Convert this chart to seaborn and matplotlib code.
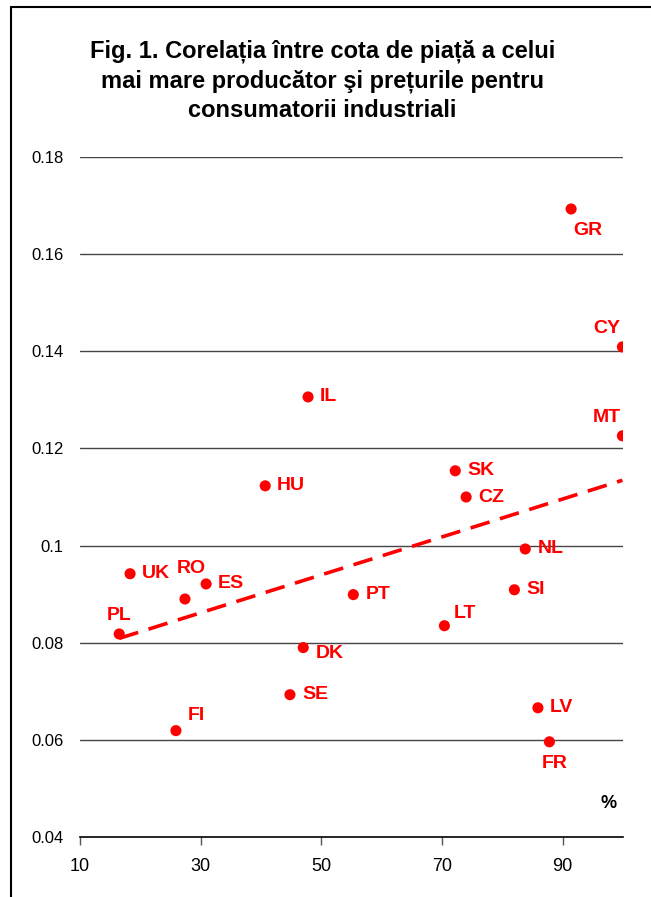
import numpy as np
import pandas as pd
import matplotlib
matplotlib.use("Agg")
import matplotlib.pyplot as plt
from matplotlib.lines import Line2D
import seaborn as sns

# Market share of the largest producer (%) and price for industrial consumers
countries = ["GR", "CY", "MT", "IL", "HU", "SK", "CZ", "NL", "SI", "LT",
             "LV", "FR", "PT", "DK", "SE", "FI", "PL", "UK", "RO", "ES"]
share = [91.4, 99.9, 99.9, 47.8, 40.7, 72.2, 74.0, 83.8, 82.0, 70.4,
         85.9, 87.8, 55.3, 47.0, 44.8, 25.9, 16.5, 18.3, 27.4, 30.9]
price = [0.1693, 0.1409, 0.1226, 0.1306, 0.1123, 0.1154, 0.1100, 0.0993, 0.0909, 0.0835,
         0.0666, 0.0596, 0.0899, 0.0790, 0.0693, 0.0619, 0.0818, 0.0942, 0.0890, 0.0921]
# label offsets in pixels (dx, dy, ha, va)
label_pos = {
    "GR": (2, -13, "left", "top"), "CY": (-2, 10, "right", "bottom"),
    "MT": (-2, 10, "right", "bottom"), "LT": (9, 4, "left", "bottom"),
    "FR": (-8, -13, "left", "top"), "DK": (13, -6, "left", "center"),
    "FI": (12, 7, "left", "bottom"), "PL": (-12, 10, "left", "bottom"),
    "RO": (-8, 22, "left", "bottom"),
}

x_ticks = [10, 30, 50, 70, 90]
y_ticks = [0.04, 0.06, 0.08, 0.1, 0.12, 0.14, 0.16, 0.18]
y_labels = ["0.04", "0.06", "0.08", "0.1", "0.12", "0.14", "0.16", "0.18"]

df = pd.DataFrame({"country": countries, "share": share, "price": price})

sns.set_theme(style="white")
plt.rcParams["font.family"] = ["Liberation Sans", "DejaVu Sans"]

fig = plt.figure(figsize=(6.51, 8.97), dpi=100)
ax = fig.add_axes([80 / 651, 1 - 837 / 897, (623 - 80) / 651, (837 - 157) / 897])

for yv in y_ticks[1:]:
    ax.axhline(yv, color="#454545", lw=1.0, zorder=0)

sns.scatterplot(data=df, x="share", y="price", ax=ax, color="#ff0000",
                s=64, edgecolor="none", zorder=3, legend=False)

# linear trend line
coef = np.polyfit(df["share"], df["price"], 1)
xs = np.array([df["share"].min(), df["share"].max()])
ax.plot(xs, np.polyval(coef, xs), color="#ff0000", lw=2.6,
        dashes=(5.5, 3), zorder=2)

for c, xv, yv in zip(countries, share, price):
    dx, dy, ha, va = label_pos.get(c, (12, 0, "left", "center"))
    ax.annotate(c, (xv, yv), xytext=(dx, dy), textcoords="offset pixels",
                ha=ha, va=va, color="#ff0000", fontsize=14, fontweight="bold")

ax.set_xlim(10, 100)
ax.set_ylim(0.04, 0.18)
ax.set_xticks(x_ticks)
ax.set_yticks(y_ticks)
ax.set_yticklabels(y_labels)
ax.set_xlabel("")
ax.set_ylabel("")
for s in ["top", "right", "left"]:
    ax.spines[s].set_visible(False)
ax.spines["bottom"].set_color("black")
ax.spines["bottom"].set_linewidth(1.2)
ax.tick_params(axis="x", direction="out", length=6, width=1, color="#555555",
               pad=9, labelsize=13, labelcolor="black", bottom=True)
ax.tick_params(axis="y", length=0, pad=12, labelsize=12, labelcolor="black")

ax.text(0.974, 0.05, "%", transform=ax.transAxes, ha="center", va="center",
        fontsize=13, fontweight="bold", color="black")

fig.text(0.495, 0.910,
         "Fig. 1. Corelația între cota de piață a celui\n"
         "mai mare producător şi prețurile pentru\n"
         "consumatorii industriali",
         ha="center", va="center", fontsize=17, fontweight="bold",
         linespacing=1.36, color="black")

# frame around the figure
fig.add_artist(Line2D([11 / 651, 11 / 651], [0, 1 - 7 / 897], transform=fig.transFigure,
                      color="black", lw=1.5))
fig.add_artist(Line2D([11 / 651, 1.0], [1 - 7 / 897, 1 - 7 / 897],
                      transform=fig.transFigure, color="black", lw=1.5))

fig.savefig("out.png", dpi=100)
